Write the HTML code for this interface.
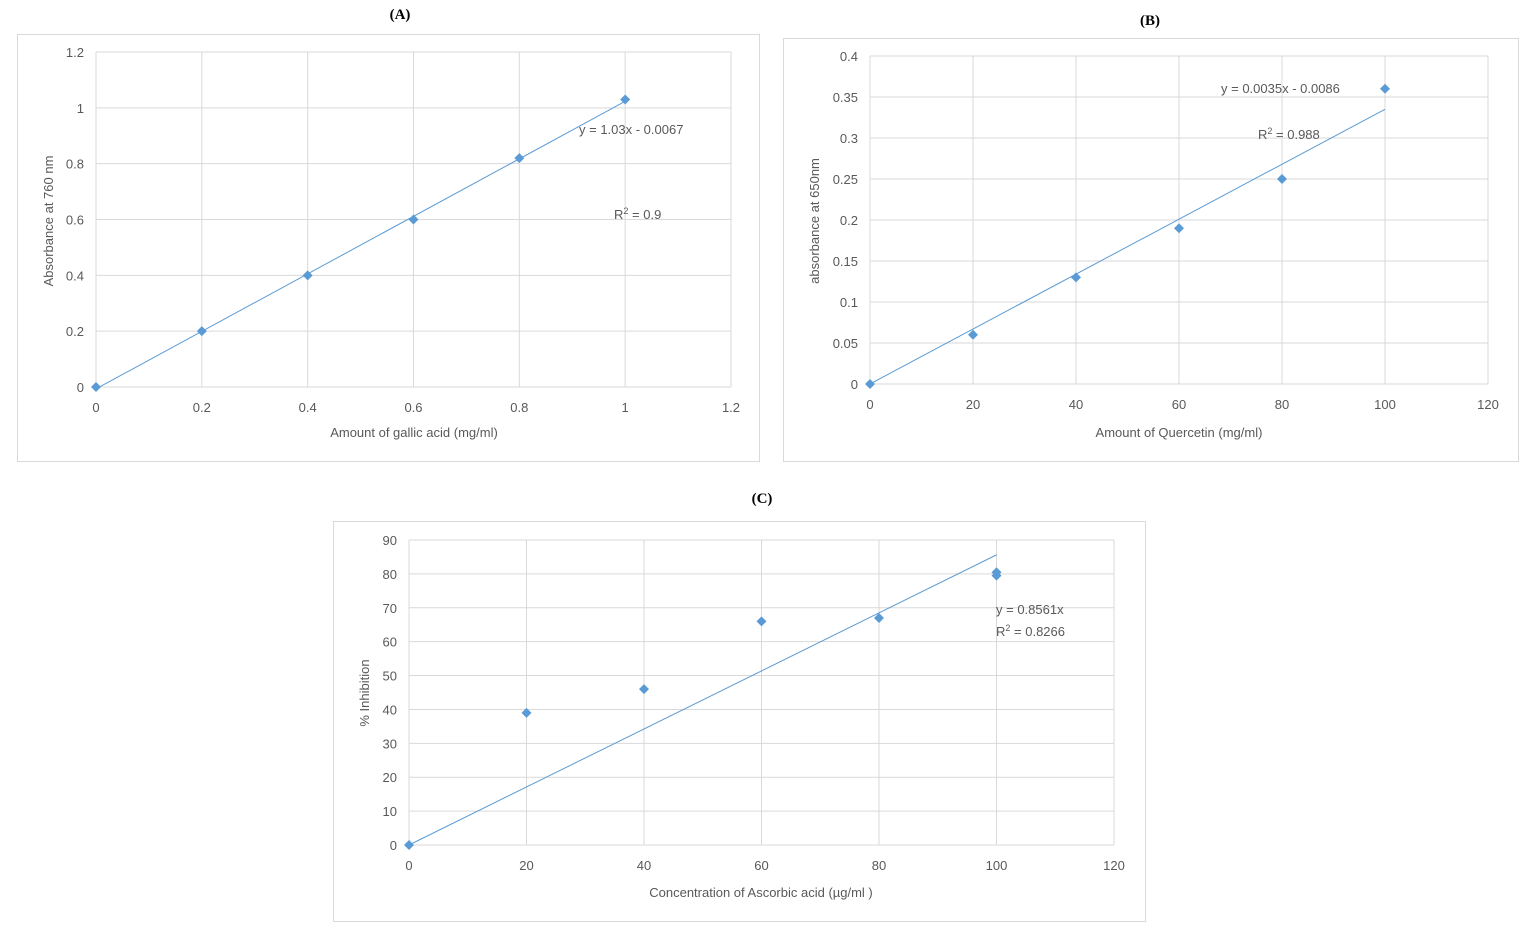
<!DOCTYPE html>
<html><head><meta charset="utf-8">
<style>
html,body{margin:0;padding:0;background:#fff;width:1539px;height:931px;overflow:hidden}
svg{display:block;font-family:"Liberation Sans",sans-serif}
.t{fill:#595959;font-size:13px}
.ttl{font-family:"Liberation Serif",serif;font-weight:bold;font-size:15px;fill:#000}
</style></head>
<body>
<svg id="s" width="1539" height="931"></svg>
<script>
// Chart A data
const aX=[0,0.2,0.4,0.6,0.8,1];
const aY=[0,0.2,0.4,0.6,0.82,1.03];
const aXTicks=[0,0.2,0.4,0.6,0.8,1,1.2];
const aYTicks=[0,0.2,0.4,0.6,0.8,1,1.2];
const aFit=[1.03,-0.0067];
// Chart B data
const bX=[0,20,40,60,80,100];
const bY=[0,0.06,0.13,0.19,0.25,0.36];
const bXTicks=[0,20,40,60,80,100,120];
const bYTicks=[0,0.05,0.1,0.15,0.2,0.25,0.3,0.35,0.4];
const bFit=[0.00335,0];
// Chart C data
const cX=[0,20,40,60,80,100,100];
const cY=[0,39,46,66,67,80.5,79.5];
const cXTicks=[0,20,40,60,80,100,120];
const cYTicks=[0,10,20,30,40,50,60,70,80,90];
const cFit=[0.8561,0];

const NS="http://www.w3.org/2000/svg";
const svg=document.getElementById('s');
function el(tag,attrs,parent,text){const e=document.createElementNS(NS,tag);for(const k in attrs)e.setAttribute(k,attrs[k]);if(text!==undefined)e.textContent=text;(parent||svg).appendChild(e);return e;}

function chart(o){
  const g=el('g',{});
  
  
  const fr=el('rect',{x:o.frame[0]+0.5,y:o.frame[1]+0.5,width:o.frame[2],height:o.frame[3],fill:'#fff',stroke:'#d9d9d9'},g);
  
  
  const [L,T,R,B]=o.plot;
  const xmax=o.xt[o.xt.length-1], ymax=o.yt[o.yt.length-1];
  const sx=v=>L+(v/xmax)*(R-L), sy=v=>B-(v/ymax)*(B-T);
  o.xt.forEach(v=>{
    const l=el('line',{x1:sx(v),x2:sx(v),y1:T,y2:B,stroke:'#d9d9d9'},g);
    
    
    const t=el('text',{x:sx(v),y:B+25,'text-anchor':'middle',class:'t'},g,String(v));
    
    
  });
  o.yt.forEach(v=>{
    const l=el('line',{x1:L,x2:R,y1:sy(v),y2:sy(v),stroke:'#d9d9d9'},g);
    
    
    const t=el('text',{x:L-12,y:sy(v)+5,'text-anchor':'end',class:'t'},g,String(v));
    
    
  });
  const x1=0,x2=o.xs[o.xs.length-1];
  const tl=el('line',{x1:sx(x1),y1:sy(o.fit[0]*x1+o.fit[1]),x2:sx(x2),y2:sy(o.fit[0]*x2+o.fit[1]),stroke:'#5b9bd5','stroke-width':1},g);
  
  
  o.xs.forEach((v,i)=>{
    const cx=sx(v),cy=sy(o.ys[i]);
    const p=el('path',{d:`M${cx} ${cy-5}L${cx+5} ${cy}L${cx} ${cy+5}L${cx-5} ${cy}Z`,fill:'#5b9bd5'},g);
    
    
  });
  const xt=el('text',{x:o.xlab[0],y:o.xlab[1],'text-anchor':'middle',class:'t','font-size':'14'},g,o.xlab[2]);
  
  
  const yt=el('text',{x:0,y:0,'text-anchor':'middle',class:'t',transform:`translate(${o.ylab[0]},${o.ylab[1]}) rotate(-90)`},g,o.ylab[2]);
  
  
  const tt=el('text',{x:o.title[0],y:o.title[1],'text-anchor':'middle',class:'ttl'},g,o.title[2]);
  
  
  o.labels.forEach(lb=>{
    const e=el('text',{x:lb[0],y:lb[1],class:'t','font-size':'14'},g);
    
    
    e.innerHTML=lb[2];
  });
}
chart({name:'chart-a',frame:[17,34,742,427],plot:[96,52,731,387],xt:aXTicks,yt:aYTicks,xs:aX,ys:aY,fit:aFit,
  xlab:[414,437,'Amount of gallic acid (mg/ml)'],ylab:[53,221,'Absorbance at 760 nm'],title:[400,19,'(A)'],
  labels:[[579,134,'y = 1.03x - 0.0067'],[614,219,'R<tspan font-size="9" dy="-5">2</tspan><tspan dy="5"> = 0.9</tspan>']]});
chart({name:'chart-b',frame:[783,38,735,423],plot:[870,56,1488,384],xt:bXTicks,yt:bYTicks,xs:bX,ys:bY,fit:bFit,
  xlab:[1179,437,'Amount of Quercetin (mg/ml)'],ylab:[819,221,'absorbance at 650nm'],title:[1150,25,'(B)'],
  labels:[[1221,93,'y = 0.0035x - 0.0086'],[1258,139,'R<tspan font-size="9" dy="-5">2</tspan><tspan dy="5"> = 0.988</tspan>']]});
chart({name:'chart-c',frame:[333,521,812,400],plot:[409,540,1114,845],xt:cXTicks,yt:cYTicks,xs:cX,ys:cY,fit:cFit,
  xlab:[761,897,'Concentration of Ascorbic acid (µg/ml )'],ylab:[369,693,'% Inhibition'],title:[762,503,'(C)'],
  labels:[[996,614,'y = 0.8561x'],[996,636,'R<tspan font-size="9" dy="-5">2</tspan><tspan dy="5"> = 0.8266</tspan>']]});
</script>
</body></html>
